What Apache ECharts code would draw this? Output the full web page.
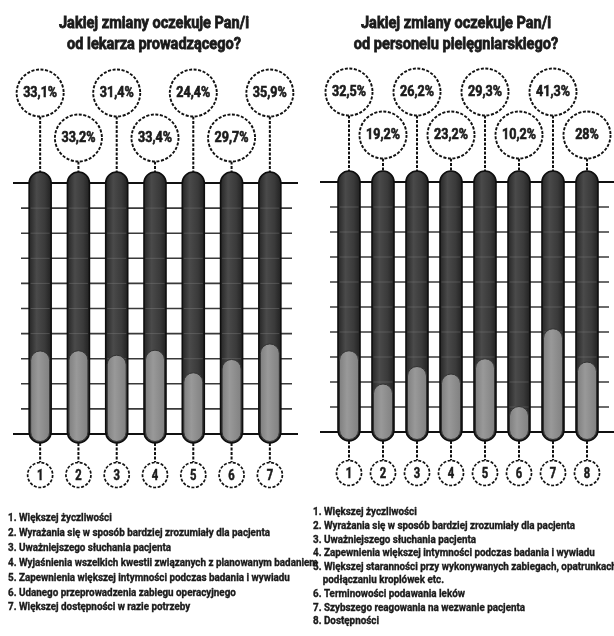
<!DOCTYPE html>
<html><head><meta charset="utf-8">
<script src="https://cdn.jsdelivr.net/npm/echarts/dist/echarts.min.js"></script>
<style>html,body{margin:0;padding:0;background:#fff}#c{width:614px;height:636px}</style>
</head><body><div id="c"></div>
<script>
const leftCategories = ['1','2','3','4','5','6','7'];
const leftValues = [33.1, 33.2, 31.4, 33.4, 24.4, 29.7, 35.9];
const rightCategories = ['1','2','3','4','5','6','7','8'];
const rightValues = [32.5, 19.2, 26.2, 23.2, 29.3, 10.2, 41.3, 28];
const yTicks = [0,10,20,30,40,50,60,70,80,90,100];
const leftTitle = ['Jakiej zmiany oczekuje Pan/i', 'od lekarza prowadzącego?'];
const rightTitle = ['Jakiej zmiany oczekuje Pan/i', 'od personelu pielęgniarskiego?'];
const leftItems = [
  '1. Większej życzliwości',
  '2. Wyrażania się w sposób bardziej zrozumiały dla pacjenta',
  '3. Uważniejszego słuchania pacjenta',
  '4. Wyjaśnienia wszelkich kwestii związanych z planowanym badaniem',
  '5. Zapewnienia większej intymności podczas badania i wywiadu',
  '6. Udanego przeprowadzenia zabiegu operacyjnego',
  '7. Większej dostępności w razie potrzeby'
];
const rightItems = [
  '1. Większej życzliwości',
  '2. Wyrażania się w sposób bardziej zrozumiały dla pacjenta',
  '3. Uważniejszego słuchania pacjenta',
  '4. Zapewnienia większej intymności podczas badania i wywiadu',
  '5. Większej staranności przy wykonywanych zabiegach, opatrunkach,',
  '    podłączaniu kroplówek etc.',
  '6. Terminowości podawania leków',
  '7. Szybszego reagowania na wezwanie pacjenta',
  '8. Dostępności'
];

const FF = "Roboto, 'Noto Sans', sans-serif";
const fmt = v => String(v).replace('.', ',') + '%';

const mctx = document.createElement('canvas').getContext('2d');
function measure(text, font) { mctx.font = font; return mctx.measureText(text).width; }

const titleFont = 'bold 17px ' + FF;
const titleScale = 190 / measure(leftTitle[0], titleFont);
const listFont = 'bold 10.5px ' + FF;
const listScale = 262 / measure(leftItems[1], listFont);
const bubbleFont = 'bold 14px ' + FF;
const bubbleScale = 34 / measure('33,1%', bubbleFont);
const numFont = 'bold 14px ' + FF;
const INK = '#1a1a1a';

const darkFill = new echarts.graphic.LinearGradient(0,0,1,0,[
  {offset:0,color:'#222'},{offset:0.35,color:'#4a4a4a'},{offset:0.7,color:'#3a3a3a'},{offset:1,color:'#1e1e1e'}]);
const lightFill = new echarts.graphic.LinearGradient(0,0,1,0,[
  {offset:0,color:'#7e7e7e'},{offset:0.4,color:'#999'},{offset:1,color:'#808080'}]);

function gridLines(idx, majL, majR, minL, minR) {
  return {
    type:'custom', xAxisIndex:idx, yAxisIndex:idx, clip:false, z:1,
    data: yTicks.map(t => [0, t]),
    renderItem(params, api) {
      const t = api.value(1);
      const y = api.coord([0, t])[1];
      const cs = params.coordSys;
      const major = (t === 0 || t === 100);
      return {type:'line',
        shape:{x1: cs.x - (major?majL:minL), y1:y, x2: cs.x + cs.width + (major?majR:minR), y2:y},
        style:{stroke: major ? '#111' : '#3a3a3a', lineWidth: major ? 2 : 1.6}};
    }
  };
}

function tubes(idx, cats, values, W, w, lowOff) {
  return {
    type:'custom', xAxisIndex:idx, yAxisIndex:idx, clip:false, z:3,
    data: values.map((v,i)=>[i,v]),
    renderItem(params, api) {
      const i = api.value(0), v = api.value(1);
      const top = api.coord([i,100]), base = api.coord([i,0]), pv = api.coord([i,v]);
      const x = base[0];
      const tTop = top[1]-11, tBot = base[1]+9;
      const ch = [];
      ch.push({type:'rect', shape:{x:x-W/2, y:tTop, width:W, height:tBot-tTop, r:W/2},
        style:{fill:darkFill, stroke:'#0e0e0e', lineWidth:1.6}});
      yTicks.slice(1,-1).forEach(t=>{
        const y = api.coord([i,t])[1];
        ch.push({type:'line', shape:{x1:x-W/2+1.5,y1:y,x2:x+W/2-1.5,y2:y}, style:{stroke:'rgba(140,140,140,0.35)', lineWidth:1}});
      });
      ch.push({type:'rect', shape:{x:x-w/2, y:pv[1], width:w, height:(base[1]+7.5)-pv[1], r:w/2},
        style:{fill:lightFill, stroke:'#333', lineWidth:1}});
      const high = i % 2 === 0;
      const R = 23.5;
      const cy = top[1] - (high ? 90 : lowOff);
      ch.push({type:'line', shape:{x1:x,y1:cy+R,x2:x,y2:tTop}, style:{stroke:'#111', lineWidth:2, lineDash:[3,1.5]}});
      ch.push({type:'circle', shape:{cx:x,cy:cy,r:R}, style:{fill:'#fff', stroke:'#111', lineWidth:1.9, lineDash:[3,1.6]}});
      ch.push({type:'text', x:x, y:cy, scaleX:bubbleScale, style:{text:fmt(v), align:'center', verticalAlign:'middle', font:bubbleFont, fill:INK, stroke:INK, lineWidth:0.6}});
      const nr = 12.5, ncy = base[1] + 41;
      ch.push({type:'line', shape:{x1:x,y1:tBot,x2:x,y2:ncy-nr}, style:{stroke:'#111', lineWidth:2, lineDash:[3,1.5]}});
      ch.push({type:'circle', shape:{cx:x,cy:ncy,r:nr}, style:{fill:'#fff', stroke:'#111', lineWidth:1.7, lineDash:[3,1.6]}});
      ch.push({type:'text', x:x, y:ncy+1, scaleX:0.8, style:{text:cats[i], align:'center', verticalAlign:'middle', font:numFont, fill:INK, stroke:INK, lineWidth:0.5}});
      return {type:'group', children:ch};
    }
  };
}

function titleText(lines, cx) {
  return lines.map((t, k) => ({type:'text', x:cx, y:15 + k*21, scaleX:titleScale,
    style:{text:t, align:'center', verticalAlign:'top', font:titleFont, fill:INK, stroke:INK, lineWidth:0.8}}));
}

const chart = echarts.init(document.getElementById('c'), null, {renderer:'canvas'});
chart.setOption({
  backgroundColor:'#fff',
  animation:false,
  grid:[
    {left:21, top:183, width:268, height:251},
    {left:332, top:182, width:272, height:250}
  ],
  xAxis:[
    {type:'category', gridIndex:0, data:leftCategories, show:false},
    {type:'category', gridIndex:1, data:rightCategories, show:false}
  ],
  yAxis:[
    {type:'value', gridIndex:0, min:0, max:100, interval:10, show:false},
    {type:'value', gridIndex:1, min:0, max:100, interval:10, show:false}
  ],
  graphic: [].concat(
    titleText(leftTitle, 154),
    titleText(rightTitle, 456),
    [
      {type:'text', x:8, y:511, scaleX:listScale, style:{text:leftItems.join('\n'), align:'left', verticalAlign:'top', font:listFont, lineHeight:14.9, fill:INK, stroke:INK, lineWidth:0.35}},
      {type:'text', x:313, y:506, scaleX:listScale, style:{text:rightItems.join('\n'), align:'left', verticalAlign:'top', font:listFont, lineHeight:13.6, fill:INK, stroke:INK, lineWidth:0.35}}
    ]
  ),
  series:[
    gridLines(0, 8, 9, 0, 3),
    gridLines(1, 12, 12, 2, 5),
    tubes(0, leftCategories, leftValues, 22, 19, 45),
    tubes(1, rightCategories, rightValues, 22, 19, 47)
  ]
});
</script></body></html>
